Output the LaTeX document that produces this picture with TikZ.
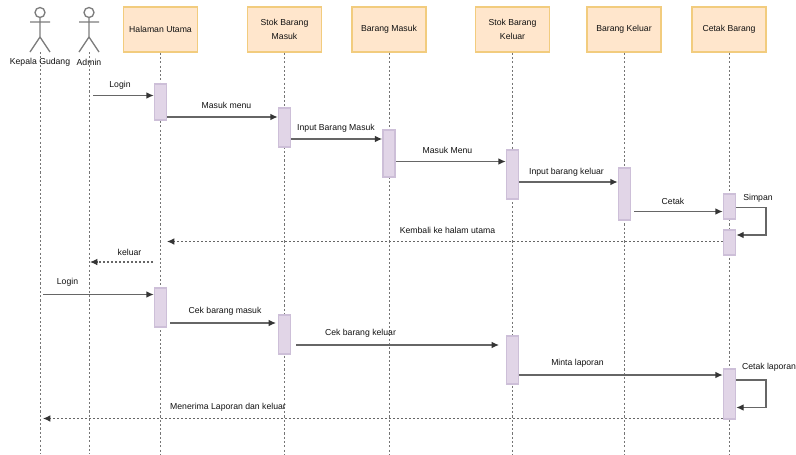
\documentclass[tikz,border=0pt]{standalone}
\usepackage{fontspec}
\setmainfont{Liberation Sans}
\usetikzlibrary{arrows.meta}
\definecolor{boxfill}{HTML}{FFE6CC}
\definecolor{boxline}{HTML}{F2CC7E}
\definecolor{actfill}{HTML}{E1D5E7}
\definecolor{actline}{HTML}{CDBFD8}
\definecolor{wire}{HTML}{666666}
\definecolor{ink}{HTML}{111111}
\tikzset{
  lifebox/.style={draw=boxline,fill=boxfill,line width=1.3pt,minimum width=55.5pt,minimum height=33.5pt,align=center,inner sep=0pt,text=ink,font=\fontsize{6.5}{10}\selectfont},
  actbar/.style={draw=actline,fill=actfill,line width=1pt,minimum width=9.2pt,inner sep=0pt},
  lifeline/.style={draw=wire!90,line width=0.7pt,dash pattern=on 1.6pt off 1.6pt},
  msg/.style={draw=wire,line width=0.95pt,-{Latex[length=5.5pt,width=5pt,color=ink!85]}},
  ret/.style={msg,line width=0.8pt,dash pattern=on 1.6pt off 1.4pt},
  lab/.style={inner sep=0pt,text=ink,font=\fontsize{6.5}{8}\selectfont},
  figure/.style={draw=wire!85,line width=1pt}
}
\newcommand{\actorfig}[4]{%
  \coordinate (#1) at (#2,52);
  \draw[figure] (#2,12.5) circle (5);
  \draw[figure] (#2,17.5) -- (#2,37) (#2-10,22) -- (#2+10,22) (#2-10,52) -- (#2,37) -- (#2+10,52);
  \coordinate (#1end) at (#2,454);
  \draw[lifeline] (#1) -- (#1end);
  \node[lab] (#1lab) at (#3,62) {#4};
}
\newcommand{\lifebar}[5]{% name, cx, text
  \node[lifebox] (#1) at (#2,29.5) {#3};
  \coordinate (#1end) at (#2,454);
  \draw[lifeline] (#1.south) -- (#1end);
}
\newcommand{\activ}[4]{% name, cx, top, bottom
  \node[actbar,minimum height={(#4-#3)*0.75pt}] (#1) at (#2,{(#3+#4)/2}) {};
}
\begin{document}
\begin{tikzpicture}[x=0.75pt,y=-0.75pt]
\useasboundingbox (0,0) rectangle (796,454);
\actorfig{kg}{40}{40}{Kepala Gudang}
\actorfig{ad}{89}{89}{Admin}
\lifebar{hu}{160.5}{Halaman Utama}{}{}
\lifebar{sm}{284.5}{Stok Barang\\Masuk}{}{}
\lifebar{bm}{389}{Barang Masuk}{}{}
\lifebar{sk}{512.5}{Stok Barang\\Keluar}{}{}
\lifebar{bk}{624}{Barang Keluar}{}{}
\lifebar{cb}{729}{Cetak Barang}{}{}

\activ{a1}{160.5}{84}{120}
\activ{a2}{284.5}{108}{147}
\activ{a3}{389}{130}{177}
\activ{a4}{512.5}{150}{199}
\activ{a5}{624.5}{168}{220}
\activ{a6}{729.5}{194}{219}
\activ{a7}{729.5}{230}{255}
\activ{b1}{160.5}{288}{327}
\activ{b2}{284.5}{315}{354}
\activ{b3}{512.5}{336}{384}
\activ{b4}{729.5}{369}{419}

\coordinate (f1) at (93,95.5);
\coordinate (f2) at (634,211.5);
\coordinate (f3) at (167,241.5);
\coordinate (f4) at (153,262);
\coordinate (f5) at (90,262);
\coordinate (f6) at (43,294.5);
\coordinate (f7) at (170,323);
\coordinate (f8) at (276,323);
\coordinate (f9) at (296,345);
\coordinate (f10) at (499,345);
\coordinate (f11) at (43,418.5);

\draw[msg] (f1) -- (a1.west |- f1);
\draw[msg] (a1.east |- 0,117) -- (a2.west |- 0,117);
\draw[msg] (a2.east |- 0,139) -- (a3.west |- 0,139);
\draw[msg] (a3.east |- 0,161.5) -- (a4.west |- 0,161.5);
\draw[msg] (a4.east |- 0,182) -- (a5.west |- 0,182);
\draw[msg] (f2) -- (a6.west |- f2);
\draw[msg] (a6.east |- 0,207.5) -| (766,235) -- (a7.east |- 0,235);
\draw[ret] (a7.west |- f3) -- (f3);
\draw[ret] (f4) -- (f5);
\draw[msg] (f6) -- (b1.west |- f6);
\draw[msg] (f7) -- (f8);
\draw[msg] (f9) -- (f10);
\draw[msg] (b3.east |- 0,375) -- (b4.west |- 0,375);
\draw[msg] (b4.east |- 0,380) -| (766,407.5) -- (b4.east |- 0,407.5);
\draw[ret] (b4.west |- f11) -- (f11);

\node[lab] (l1) at (120,85) {Login};
\node[lab] (l2) at (226.5,105.5) {Masuk menu};
\node[lab] (l3) at (336,128) {Input Barang Masuk};
\node[lab] (l4) at (447.5,150) {Masuk Menu};
\node[lab] (l5) at (566.5,172) {Input barang keluar};
\node[lab] (l6) at (673,201) {Cetak};
\node[lab] (l7) at (758,198) {Simpan};
\node[lab] (l8) at (447.5,230.5) {Kembali ke halam utama};
\node[lab] (l9) at (129.5,252.5) {keluar};
\node[lab] (l10) at (67.5,282) {Login};
\node[lab] (l11) at (225,311.5) {Cek barang masuk};
\node[lab] (l12) at (360.5,333.5) {Cek barang keluar};
\node[lab] (l13) at (577.5,363) {Minta laporan};
\node[lab] (l14) at (769,367) {Cetak laporan};
\node[lab] (l15) at (228,407) {Menerima Laporan dan keluar};
\end{tikzpicture}
\end{document}
